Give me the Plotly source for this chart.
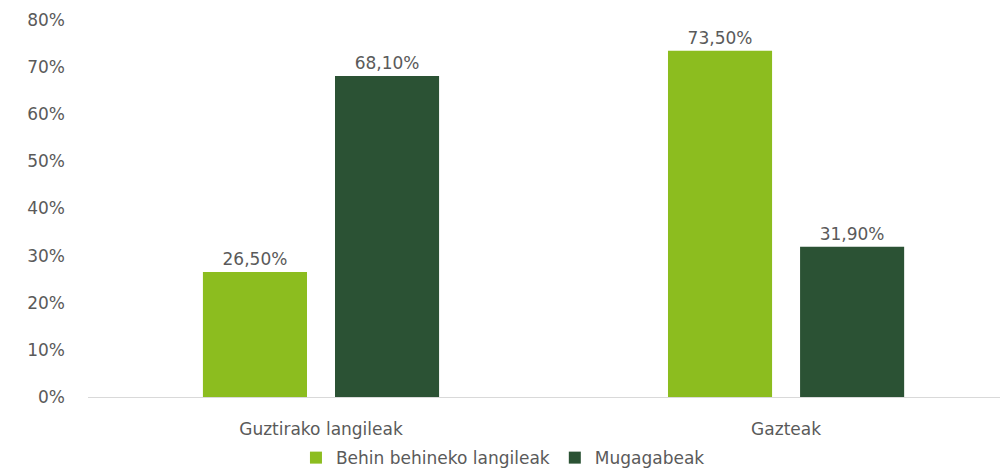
import plotly.graph_objects as go

categories = ["Guztirako langileak", "Gazteak"]
series_names = ["Behin behineko langileak", "Mugagabeak"]
behin_behineko = [26.5, 73.5]
mugagabeak = [68.1, 31.9]
colors = ["#8cbd1f", "#2b5234"]
y_ticks = [0, 10, 20, 30, 40, 50, 60, 70, 80]
y_ticktext = [f"{v}%" for v in y_ticks]

def fmt(v):
    return f"{v:.2f}".replace(".", ",") + "%"

FONT = "DejaVu Sans"
TXT = "#5a5a5a"

xpos = list(range(len(categories)))
fig = go.Figure()
for name, vals, col in zip(series_names, [behin_behineko, mugagabeak], colors):
    fig.add_trace(go.Bar(
        x=xpos, y=vals, name=name, marker=dict(color=col, line=dict(width=0)),
        text=[fmt(v) for v in vals], textposition="outside",
        textfont=dict(family=FONT, size=17, color=TXT),
        cliponaxis=False,
    ))

fig.update_layout(
    width=1007, height=469,
    margin=dict(l=88, r=7, t=20, b=72, autoexpand=False),
    paper_bgcolor="white", plot_bgcolor="white",
    barmode="group", bargap=0.432, bargroupgap=0.212,
    font=dict(family=FONT, size=17, color=TXT),
    showlegend=True,
    legend=dict(orientation="h", x=0.455, xanchor="center", y=-0.162, yanchor="middle",
                font=dict(family=FONT, size=17, color=TXT),
                itemwidth=30, tracegroupgap=0),
    xaxis=dict(tickmode="array", tickvals=xpos, ticktext=categories,
               range=[-0.501, 1.46], showgrid=False, zeroline=False,
               showline=True, linecolor="#d9d9d9", linewidth=1, ticks="",
               ticklabelstandoff=17, automargin=False,
               tickfont=dict(family=FONT, size=17, color=TXT)),
    yaxis=dict(range=[0, 80], tickmode="array", tickvals=y_ticks, ticktext=y_ticktext,
               showgrid=False, zeroline=False, showline=False, ticks="",
               ticklabelstandoff=22, automargin=False,
               tickfont=dict(family=FONT, size=17, color=TXT)),
)
fig.write_html("out.html", config={"displayModeBar": False},
               post_script="document.body.style.margin='0';document.body.style.overflow='hidden';")
